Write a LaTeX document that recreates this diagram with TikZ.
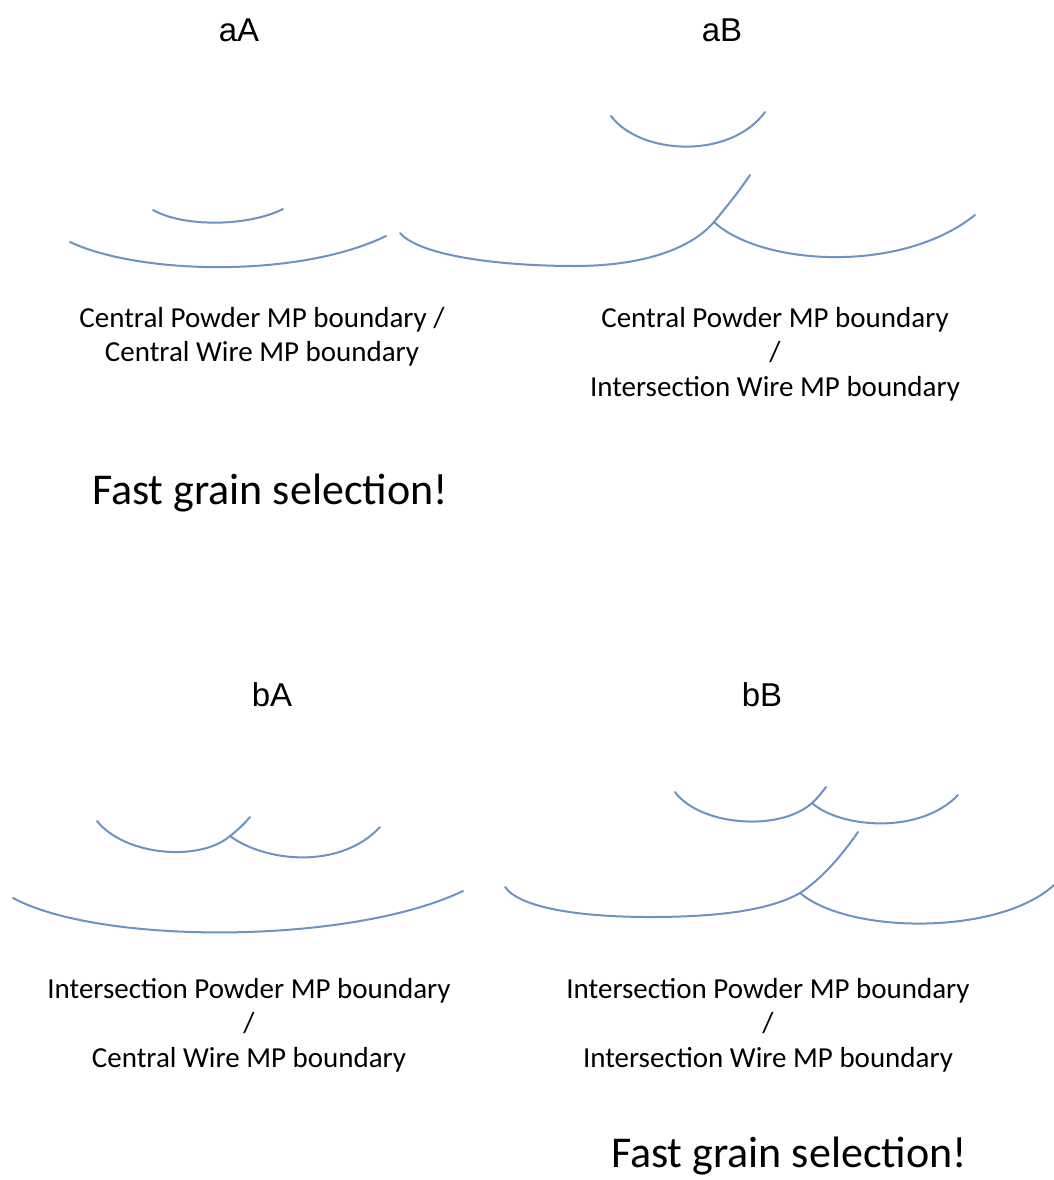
\documentclass[tikz,border=0pt]{standalone}
\usepackage{fontspec}
\setmainfont{Carlito}
\newfontfamily\arialf{Liberation Sans}
\definecolor{bnd}{HTML}{6C93C4}
\begin{document}
\begin{tikzpicture}[x=1pt,y=-1pt,
  bline/.style={draw=bnd,line width=2pt,line cap=round},
  ttl/.style={font=\arialf\fontsize{33}{36}\selectfont,inner sep=0pt},
  lbl/.style={font=\fontsize{29}{34.5}\selectfont,align=center,inner sep=0pt},
  big/.style={font=\fontsize{44}{48}\selectfont,inner sep=0pt}]
\useasboundingbox[fill=white] (0,0) rectangle (1054,1180);
% titles
\node[ttl] (taA) at (239,30) {aA};
\node[ttl] (taB) at (722,30) {aB};
\node[ttl] (tbA) at (272,695) {bA};
\node[ttl] (tbB) at (762,695) {bB};
% aA curves
\draw[bline] (153,210) .. controls (185,228) and (250,226) .. (283,209);
\draw[bline] (70,242) .. controls (140,275) and (300,278) .. (386,236);
% aB curves
\draw[bline] (611,116) .. controls (640,155) and (730,160) .. (765,112);
\draw[bline] (400,233) .. controls (420,256) and (500,266) .. (575,266)
  .. controls (640,266) and (690,250) .. (714,222)
  .. controls (728,205) and (740,190) .. (750,175);
\draw[bline] (714,222) .. controls (760,265) and (900,275) .. (975,215);
% bA curves
\draw[bline] (97,821) .. controls (125,856) and (200,862) .. (230,836)
  .. controls (238,830) and (245,823) .. (250,817);
\draw[bline] (230,836) .. controls (265,862) and (340,870) .. (380,827);
\draw[bline] (13,898) .. controls (100,945) and (350,945) .. (463,891);
% bB curves
\draw[bline] (675,792) .. controls (700,826) and (780,832) .. (812,803)
  .. controls (818,798) and (822,792) .. (826,787);
\draw[bline] (812,803) .. controls (840,828) and (920,835) .. (958,795);
\draw[bline] (505,887) .. controls (520,908) and (580,917) .. (650,917)
  .. controls (720,917) and (770,910) .. (800,893)
  .. controls (820,880) and (840,858) .. (858,832);
\draw[bline] (800,893) .. controls (850,935) and (1000,935) .. (1054,885);
% labels
\node[lbl] (laA) at (262,337) {Central Powder MP boundary /\\Central Wire MP boundary};
\node[lbl] (laB) at (775,354) {Central Powder MP boundary\\/\\Intersection Wire MP boundary};
\node[big] (fA) at (270,493) {Fast grain selection!};
\node[lbl] (lbA) at (249,1025) {Intersection Powder MP boundary\\/\\Central Wire MP boundary};
\node[lbl] (lbB) at (768,1025) {Intersection Powder MP boundary\\/\\Intersection Wire MP boundary};
\node[big] (fB) at (789,1156) {Fast grain selection!};
\end{tikzpicture}
\end{document}
